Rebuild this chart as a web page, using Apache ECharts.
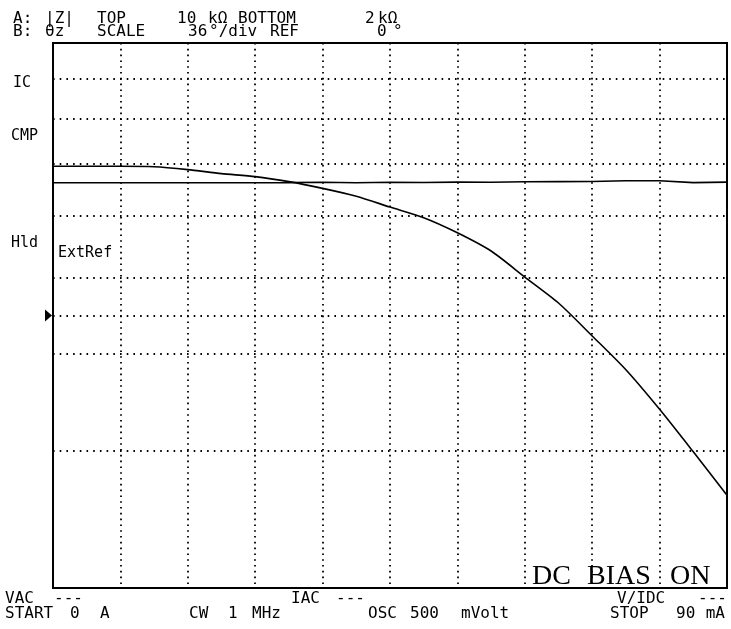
<!DOCTYPE html>
<html>
<head>
<meta charset="utf-8">
<script src="https://cdn.jsdelivr.net/npm/echarts@6/dist/echarts.min.js"></script>
<style>
html, body { margin: 0; padding: 0; background: #fff; }
#chart { width: 731px; height: 629px; }
</style>
</head>
<body>
<div id="chart"></div>
<script>
// DC bias sweep, CW 1 MHz
var currentMA = [0, 4.5, 9, 13.5, 18, 22.5, 27, 31.5, 36, 40.5, 45, 49.5, 54, 58.5, 63, 67.5, 72, 76.5, 81, 85.5, 90];
// trace A: |Z| in kOhm (log scale 2k .. 10k)
var zMagK = [6.95, 6.95, 6.95, 6.94, 6.88, 6.80, 6.74, 6.64, 6.51, 6.36, 6.16, 5.97, 5.71, 5.41, 5.01, 4.64, 4.21, 3.81, 3.39, 2.99, 2.63];
// trace B: theta z in degrees (36 deg/div, ref 0)
var phaseDeg = [87.7, 87.7, 87.7, 87.7, 87.7, 87.7, 87.7, 87.8, 88.0, 87.7, 88.0, 87.9, 88.1, 88.0, 88.3, 88.4, 88.5, 89.0, 89.0, 87.8, 88.1];
// log grid lines of the |Z| scale
var zGridK = [3, 4, 5, 6, 7, 8, 9];
var phaseRef = 0;

var chartDom = document.getElementById('chart');
var myChart = echarts.init(chartDom);

var mono = '"DejaVu Sans Mono", monospace';
var serif = '"Liberation Serif", serif';
var dotH = { color: '#000', width: 1.8, type: [1.6, 5.1] };

function pairs(xs, ys) {
    return xs.map(function (x, i) { return [x, ys[i]]; });
}

// small helper for the screen texts
function txt(s, x, y, size, family, align) {
    return {
        type: 'text', x: x, y: y, silent: true,
        style: {
            text: s, fill: '#000',
            font: size + 'px ' + (family || mono),
            align: align || 'left', verticalAlign: 'middle'
        }
    };
}

var texts = [
    // header
    txt('A:', 13, 18.5, 16), txt('|Z|', 45, 18.5, 16), txt('TOP', 97, 18.5, 16),
    txt('10', 177, 18.5, 16), txt('kΩ', 208, 18.5, 16), txt('BOTTOM', 238, 18.5, 16),
    txt('2', 365, 18.5, 16), txt('kΩ', 378, 18.5, 16),
    txt('B:', 13, 31.5, 16), txt('θz', 45, 31.5, 16), txt('SCALE', 97, 31.5, 16),
    txt('36', 188, 31.5, 16), txt('°/div', 209, 31.5, 16), txt('REF', 270, 31.5, 16),
    txt('0', 377, 31.5, 16), txt('°', 393, 31.5, 16),
    // left side labels
    txt('IC', 13, 83, 15), txt('CMP', 11, 136, 15), txt('Hld', 11, 243, 15),
    txt('ExtRef', 58, 253.5, 15),
    // footer
    txt('VAC', 5, 599, 16), txt('---', 54, 599, 16),
    txt('IAC', 291, 599, 16), txt('---', 336, 599, 16),
    txt('V/IDC', 617, 599, 16), txt('---', 727, 599, 16, null, 'right'),
    txt('START', 5, 614, 16), txt('0', 70, 614, 16), txt('A', 100, 614, 16),
    txt('CW', 189, 614, 16), txt('1', 228, 614, 16), txt('MHz', 252, 614, 16),
    txt('OSC', 368, 614, 16), txt('500', 410, 614, 16), txt('mVolt', 461, 614, 16),
    txt('STOP', 610, 614, 16), txt('90', 676, 614, 16), txt('mA', 725, 614, 16, null, 'right'),
    // big status text
    txt('DC', 532, 577, 28, serif),
    txt('BIAS', 587, 577, 28, serif),
    txt('ON', 670, 577, 28, serif)
];

var option = {
    animation: false,
    backgroundColor: '#fff',
    grid: {
        left: 53, right: 4, top: 43, bottom: 41,
        show: true, borderColor: '#000', borderWidth: 2
    },
    xAxis: {
        type: 'value', min: 0, max: 90, interval: 9,
        axisLine: { show: false }, axisTick: { show: false }, axisLabel: { show: false },
        splitLine: { show: true, lineStyle: { color: '#000', width: 1.8, type: [1.6, 4.2] } }
    },
    yAxis: [
        {
            type: 'log', logBase: 10, min: 2, max: 10,
            axisLine: { show: false }, axisTick: { show: false }, axisLabel: { show: false },
            splitLine: { show: false }
        },
        {
            type: 'value', min: -180, max: 180, interval: 36,
            axisLine: { show: false }, axisTick: { show: false }, axisLabel: { show: false },
            splitLine: { show: false }
        }
    ],
    series: [
        {
            name: '|Z|', type: 'line', yAxisIndex: 0,
            data: pairs(currentMA, zMagK),
            symbol: 'none', smooth: 0.25,
            lineStyle: { color: '#000', width: 1.6 },
            markLine: {
                silent: true, symbol: ['none', 'none'], label: { show: false },
                lineStyle: dotH,
                data: zGridK.map(function (v) { return { yAxis: v }; })
            },
            z: 3
        },
        {
            name: 'θz', type: 'line', yAxisIndex: 1,
            data: pairs(currentMA, phaseDeg),
            symbol: 'none',
            lineStyle: { color: '#000', width: 1.6 },
            markLine: {
                silent: true, symbol: ['none', 'none'], label: { show: false },
                lineStyle: dotH,
                data: [{ yAxis: phaseRef }]
            },
            z: 3
        }
    ],
    graphic: texts
};

option && myChart.setOption(option);

// reference position marker for trace B
var refY = myChart.convertToPixel({ yAxisIndex: 1 }, phaseRef);
myChart.setOption({
    graphic: texts.concat([{
        type: 'polygon', silent: true,
        shape: { points: [[45, refY - 6], [52, refY], [45, refY + 6]] },
        style: { fill: '#000' }
    }])
});
</script>
</body>
</html>
